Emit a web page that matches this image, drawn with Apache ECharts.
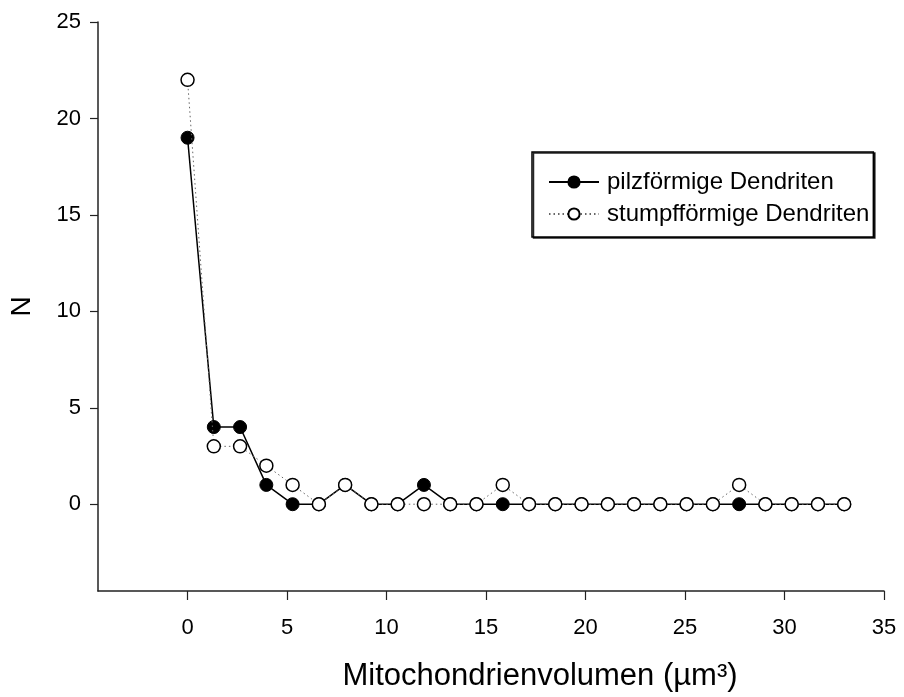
<!DOCTYPE html>
<html>
<head>
<meta charset="utf-8">
<script src="https://cdn.jsdelivr.net/npm/echarts@6/dist/echarts.min.js"></script>
<style>html,body{margin:0;padding:0;background:#fff;}#c{width:904px;height:697px;}</style>
</head>
<body>
<div id="c"></div>
<script>
// Data
const volumes = [0, 1.32, 2.64, 3.96, 5.28, 6.6, 7.92, 9.24, 10.56, 11.88, 13.2, 14.52, 15.84, 17.16, 18.48, 19.8, 21.12, 22.44, 23.76, 25.08, 26.4, 27.72, 29.04, 30.36, 31.68, 33.0];
const pilzfoermig = [19, 4, 4, 1, 0, 0, 1, 0, 0, 1, 0, 0, 0, 0, 0, 0, 0, 0, 0, 0, 0, 0, 0, 0, 0, 0];
const stumpffoermig = [22, 3, 3, 2, 1, 0, 1, 0, 0, 0, 0, 0, 1, 0, 0, 0, 0, 0, 0, 0, 0, 1, 0, 0, 0, 0];
const xTicks = [0, 5, 10, 15, 20, 25, 30, 35];
const yTicks = [0, 5, 10, 15, 20, 25];
const seriesNames = ['pilzförmige Dendriten', 'stumpfförmige Dendriten'];
const xTitle = 'Mitochondrienvolumen (µm³)';
const yTitle = 'N';

const pairs = (ys) => volumes.map((x, i) => [x, ys[i]]);
const FONT = "'Liberation Sans', Arial, sans-serif";

const chart = echarts.init(document.getElementById('c'), null, {renderer: 'canvas'});
chart.setOption({
  animation: false,
  backgroundColor: '#fff',
  grid: {left: 95, right: 20, top: 22, bottom: 104, containLabel: false},
  legend: {
    orient: 'vertical',
    left: 532, top: 152,
    padding: [18, 4, 11, 16],
    itemWidth: 50, itemHeight: 14, itemGap: 8,
    backgroundColor: '#fff',
    borderColor: '#000', borderWidth: 1.5,
    shadowColor: 'rgba(0,0,0,0.85)', shadowBlur: 0, shadowOffsetX: 1.5, shadowOffsetY: 1,
    textStyle: {fontFamily: FONT, fontSize: 24, color: '#000', padding: [0, 0, 0, 3]},
    data: seriesNames
  },
  xAxis: {
    type: 'value', min: -4.5, max: 35,
    name: xTitle, nameLocation: 'middle', nameGap: 70,
    nameTextStyle: {fontFamily: FONT, fontSize: 31, color: '#000', verticalAlign: 'top', padding: [0, 0, 0, 98]},
    axisLine: {show: true, onZero: false, lineStyle: {color: '#222', width: 1.5}},
    axisTick: {show: true, inside: false, length: 9, customValues: xTicks, lineStyle: {color: '#222', width: 1.2}},
    axisLabel: {customValues: xTicks, fontFamily: FONT, fontSize: 22, color: '#000', margin: 26},
    splitLine: {show: false}
  },
  yAxis: {
    type: 'value', min: -4.5, max: 25,
    name: yTitle, nameLocation: 'middle', nameGap: 62, nameRotate: 90,
    nameTextStyle: {fontFamily: FONT, fontSize: 28, color: '#000'},
    axisLine: {show: true, onZero: false, lineStyle: {color: '#222', width: 1.5}},
    axisTick: {show: true, inside: false, length: 8, customValues: yTicks, lineStyle: {color: '#222', width: 1.2}},
    axisLabel: {customValues: yTicks, fontFamily: FONT, fontSize: 22, color: '#000', margin: 17},
    splitLine: {show: false}
  },
  series: [
    {
      name: seriesNames[0], type: 'line', data: pairs(pilzfoermig),
      symbol: 'circle', symbolSize: 13, showAllSymbol: true,
      lineStyle: {color: '#000', width: 1.5},
      itemStyle: {color: '#000', borderColor: '#000', borderWidth: 1},
      z: 2
    },
    {
      name: seriesNames[1], type: 'line', data: pairs(stumpffoermig),
      symbol: 'circle', symbolSize: 13, showAllSymbol: true,
      lineStyle: {color: '#666', width: 1, type: [1.5, 3]},
      itemStyle: {color: '#fff', borderColor: '#000', borderWidth: 1.5},
      z: 3
    }
  ]
});
</script>
</body>
</html>
